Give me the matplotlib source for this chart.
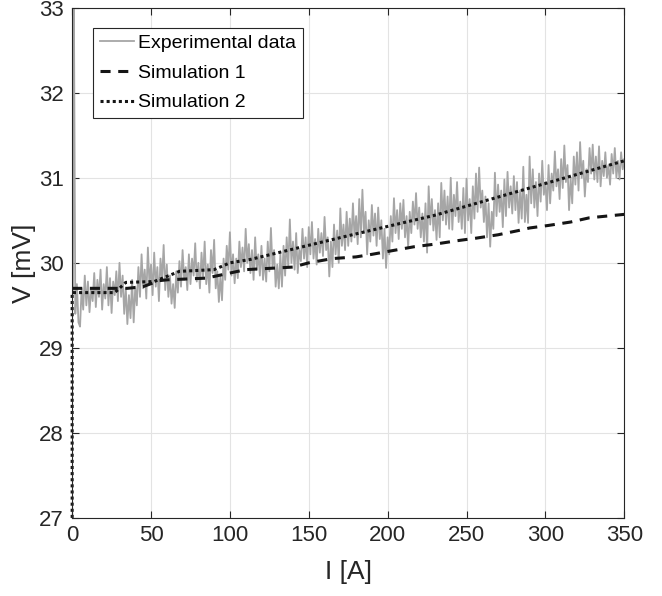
import numpy as np
import matplotlib
matplotlib.use("Agg")
import matplotlib.pyplot as plt

# experimental data: spike at start, then 1 A samples from 2 A to 350 A
exp_head_i = [0.5, 1.0]
exp_head_v = [29.65, 33.5]
exp_i = np.arange(2, 351)
exp_v = [
    29.40, 29.75, 29.30, 29.25, 29.70, 29.45, 29.85, 29.50, 29.78, 29.42,
    29.70, 29.55, 29.88, 29.48, 29.80, 29.60, 29.92, 29.45, 29.75, 29.58,
    29.95, 29.50, 29.82, 29.41, 29.78, 29.62, 29.90, 29.55, 30.00, 29.60,
    29.85, 29.40, 29.70, 29.28, 29.62, 29.35, 29.80, 29.30, 29.72, 29.50,
    29.95, 29.60, 30.10, 29.70, 29.92, 29.58, 30.18, 29.75, 29.98, 29.62,
    30.12, 29.72, 29.95, 29.55, 30.05, 29.80, 30.21, 29.68, 29.98, 29.60,
    29.85, 29.52, 29.75, 29.47, 29.90, 29.65, 30.02, 29.72, 30.15, 29.80,
    29.95, 29.68, 30.10, 29.75, 30.05, 29.85, 30.23, 29.78, 30.00, 29.70,
    30.12, 29.82, 30.25, 29.75, 29.98, 29.65, 30.15, 29.88, 30.27, 29.70,
    29.90, 29.54, 29.85, 29.56, 30.05, 29.80, 30.20, 29.92, 30.36, 29.85,
    30.10, 29.76, 30.05, 29.82, 30.25, 29.95, 30.18, 29.90, 30.40, 30.00,
    30.22, 29.88, 30.15, 29.80, 30.30, 29.92, 30.10, 29.85, 30.20, 29.80,
    30.05, 29.78, 30.25, 29.90, 30.41, 29.95, 30.15, 29.72, 29.98, 29.70,
    30.10, 29.72, 30.20, 29.85, 30.30, 29.95, 30.51, 30.00, 30.25, 29.92,
    30.35, 29.88, 30.15, 30.02, 30.40, 30.05, 30.30, 29.95, 30.42, 30.10,
    30.48, 30.05, 30.28, 29.98, 30.40, 30.12, 30.35, 30.08, 30.54, 30.15,
    30.30, 29.84, 30.25, 29.95, 30.45, 30.10, 30.38, 30.00, 30.64, 30.20,
    30.45, 30.15, 30.60, 30.20, 30.52, 30.25, 30.70, 30.30, 30.55, 30.22,
    30.75, 30.30, 30.86, 30.35, 30.60, 30.10, 30.50, 30.25, 30.68, 30.32,
    30.58, 30.20, 30.65, 30.28, 30.50, 30.05, 30.40, 29.94, 30.30, 30.10,
    30.55, 30.25, 30.76, 30.35, 30.62, 30.28, 30.70, 30.40, 30.74, 30.30,
    30.55, 30.18, 30.60, 30.35, 30.72, 30.45, 30.82, 30.40, 30.65, 30.30,
    30.58, 30.25, 30.70, 30.12, 30.90, 30.45, 30.75, 30.38, 30.62, 30.27,
    30.70, 30.30, 30.94, 30.50, 30.85, 30.45, 30.78, 30.40, 31.00, 30.39,
    30.80, 30.55, 30.95, 30.48, 30.72, 30.40, 30.88, 30.35, 30.99, 30.50,
    30.75, 30.35, 30.90, 30.52, 31.05, 30.60, 31.12, 30.65, 30.85, 30.48,
    30.78, 30.30, 30.70, 30.19, 30.60, 30.40, 31.06, 30.55, 30.92, 30.60,
    30.85, 30.42, 30.98, 30.55, 31.07, 30.65, 30.90, 30.58, 31.02, 30.62,
    30.95, 30.47, 30.85, 30.52, 31.13, 30.48, 30.80, 30.47, 31.25, 30.70,
    31.10, 30.65, 30.95, 30.55, 31.05, 30.72, 31.20, 30.80, 30.95, 30.62,
    31.15, 30.70, 31.05, 30.85, 31.31, 30.90, 31.10, 30.75, 31.22, 30.88,
    31.38, 30.95, 31.15, 30.62, 31.00, 30.70, 31.25, 30.92, 31.30, 30.85,
    31.42, 31.00, 31.20, 30.78, 31.10, 30.95, 31.35, 31.05, 31.39, 30.98,
    31.25, 30.95, 31.37, 30.90, 31.20, 31.02, 31.30, 31.00, 31.15, 30.92,
    31.28, 31.05, 31.35, 31.00, 31.20, 30.98, 31.30, 31.10, 31.22,
]

# simulation 1 (dashed)
sim1_i = [0, 27, 35, 45, 55, 60, 85, 95, 110, 140, 150, 165, 180, 190, 205,
          217, 230, 244, 256, 270, 283, 290, 302, 316, 328, 350]
sim1_v = [29.70, 29.70, 29.70, 29.72, 29.79, 29.80, 29.82, 29.86, 29.92, 29.95,
          30.00, 30.05, 30.07, 30.10, 30.15, 30.19, 30.22, 30.26, 30.29, 30.33,
          30.38, 30.41, 30.44, 30.48, 30.53, 30.57]

# simulation 2 (dotted)
sim2_i = [0, 0, 27, 34, 52, 68, 90, 100, 113, 173, 230, 290, 350]
sim2_v = [27.0, 29.65, 29.65, 29.77, 29.78, 29.90, 29.92, 30.00, 30.04, 30.31,
          30.56, 30.88, 31.20]

plt.rcParams['font.family'] = ['Liberation Sans', 'DejaVu Sans']
dark = '#262626'

fig = plt.figure(figsize=(6.62, 5.96), dpi=100)
ax = fig.add_axes([0.109, 0.131, 0.834, 0.856])

ax.plot(exp_head_i + list(exp_i), exp_head_v + exp_v, color='#a6a6a6', lw=1.3,
        label='Experimental data')
ax.plot(sim1_i, sim1_v, color='#151515', lw=2.2, ls=(0, (3.3, 2.5)),
        label='Simulation 1')
ax.plot(sim2_i, sim2_v, color='#151515', lw=2.2, ls=(0, (1, 1)),
        label='Simulation 2', clip_on=False)

ax.set_xlim(0, 350)
ax.set_ylim(27, 33)
ax.set_xticks(np.arange(0, 351, 50))
ax.set_yticks(np.arange(27, 34, 1))
ax.grid(True, color='#e3e3e3', lw=0.8)
ax.set_axisbelow(True)
ax.tick_params(direction='in', top=True, right=True, length=5, width=0.8,
               colors=dark, labelsize=16)
ax.tick_params(axis='x', pad=5)
ax.tick_params(axis='y', pad=6)
for s in ax.spines.values():
    s.set_color(dark)
    s.set_linewidth(0.8)

ax.set_xlabel('I [A]', fontsize=19, color=dark, labelpad=10)
ax.set_ylabel('V [mV]', fontsize=19, color=dark, labelpad=2)

leg = ax.legend(loc='upper left', bbox_to_anchor=(0.038, 0.961), fontsize=14,
                handlelength=1.75, handletextpad=0.2, borderpad=0.35,
                labelspacing=0.62, borderaxespad=0, fancybox=False, framealpha=1)
leg.get_frame().set_edgecolor(dark)
leg.get_frame().set_linewidth(0.8)

fig.savefig('out.png', dpi=100)
